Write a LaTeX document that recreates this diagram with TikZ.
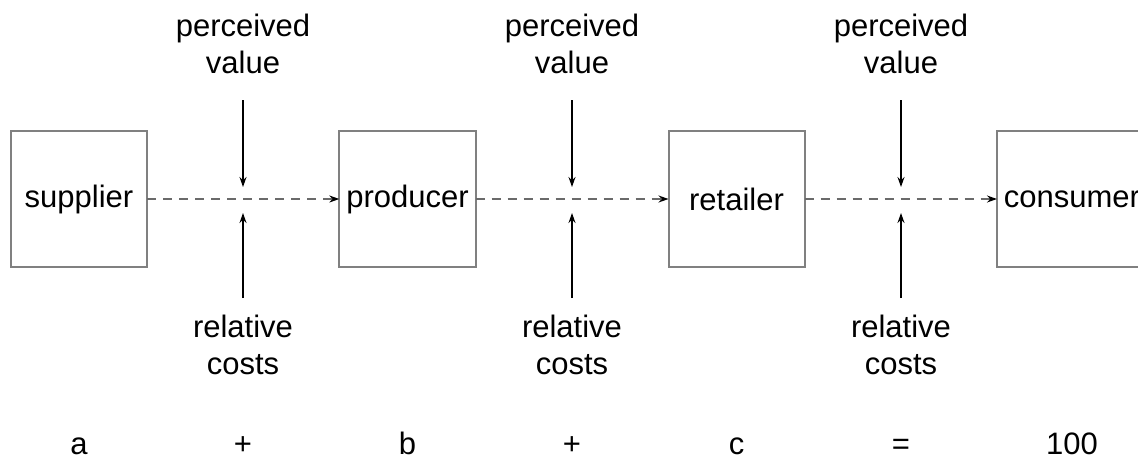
\documentclass[tikz,border=0pt]{standalone}
\usepackage{fontspec}
\setmainfont{Liberation Sans}
\usetikzlibrary{arrows.meta}

\definecolor{boxgray}{HTML}{808080}
\definecolor{flowgray}{HTML}{6A6A6A}

\tikzset{
  chainbox/.style={draw=boxgray, line width=2pt, minimum width=136pt,
    minimum height=136pt, inner sep=7pt, outer sep=0pt},
  label/.style={align=center, inner sep=0pt},
  term/.style={anchor=base, inner sep=0pt},
  flow/.style={draw=flowgray, line width=1.5pt, dash pattern=on 9pt off 7pt,
    -{Stealth[length=10pt, width=7pt, black]}},
  push/.style={draw=black, line width=1.4pt,
    -{Stealth[length=10pt, width=7pt]}},
}

\begin{document}
\begin{tikzpicture}[x=1pt, y=-1pt, font=\fontsize{31}{37}\selectfont]
\useasboundingbox (0,0) rectangle (1138,461);
\clip (0,0) rectangle (1138,461);

% the chain of parties
\node[chainbox] (sup) at (79,199)    {supplier};
\node[chainbox] (pro) at (407.5,199) {producer};
\node[chainbox] (ret) at (736.5,199) {retailer};
\node[chainbox] (con) at (1072,199)  {consumer};

% flows between the parties
\draw[flow] (sup.east) -- (pro.west);
\draw[flow] (pro.east) -- (ret.west);
\draw[flow] (ret.east) -- (con.west);

% value and cost pressures on each link
\foreach \i/\x in {1/243, 2/572, 3/901} {
  \node[label] (pv\i) at (\x,43.5)  {perceived\\value};
  \node[label] (rc\i) at (\x,344.5) {relative\\costs};
  \coordinate (vt\i) at (\x,100);
  \coordinate (vb\i) at (\x,187);
  \coordinate (ct\i) at (\x,213);
  \coordinate (cb\i) at (\x,298);
  \draw[push] (vt\i) -- (vb\i);
  \draw[push] (cb\i) -- (ct\i);
}

% the sum along the bottom
\node[term] (sa) at (79,454)    {a};
\node[term] (p1) at (243,454)   {+};
\node[term] (sb) at (407.5,454) {b};
\node[term] (p2) at (572,454)   {+};
\node[term] (sc) at (736.5,454) {c};
\node[term] (eq) at (901,454)   {=};
\node[term] (tot) at (1072,454) {100};
\end{tikzpicture}
\end{document}
